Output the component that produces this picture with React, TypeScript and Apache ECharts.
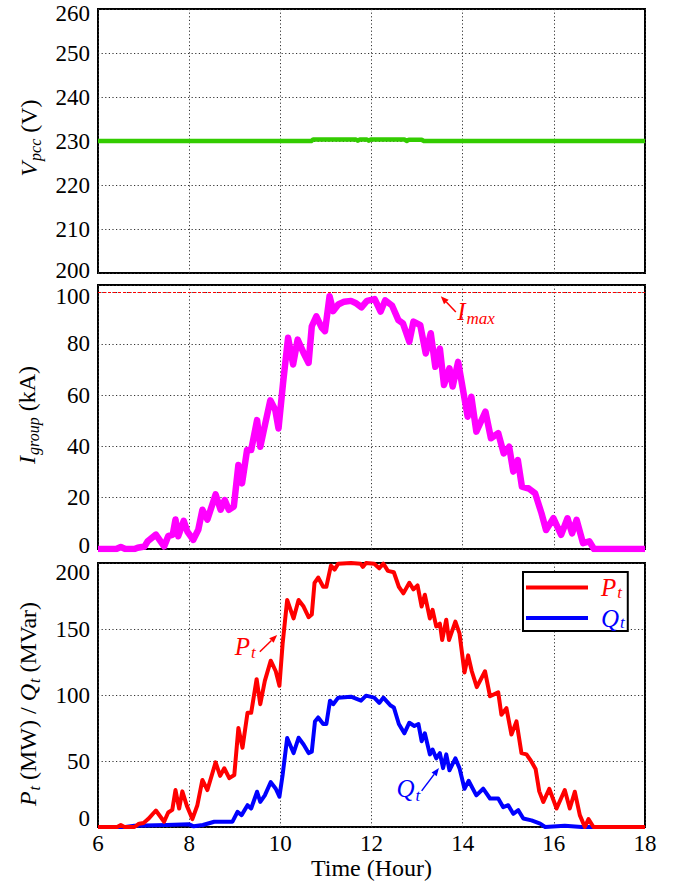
import React, { useEffect, useRef } from 'react';
import * as echarts from 'echarts';

// ---------- data ----------
const hourTicks = [6, 8, 10, 12, 14, 16, 18];

const voltagePcc: [number, number][] = [
  [6, 230], [10.68, 230], [10.72, 230.35], [11.66, 230.35], [11.7, 230.05], [11.74, 230.35],
  [11.9, 230.35], [11.94, 230.05], [11.98, 230.35], [12.72, 230.35], [12.77, 230], [12.82, 230.3],
  [13.1, 230.3], [13.15, 230], [18, 230],
];

const groupCurrent: [number, number][] = [
  [6, 0], [6.4, 0], [6.5, 0.8], [6.6, 0], [6.8, 0], [6.87, 0.5], [7.02, 1], [7.09, 3], [7.27, 5.6],
  [7.45, 1], [7.54, 5], [7.64, 5.6], [7.7, 11.5], [7.76, 5], [7.88, 11], [7.96, 6.8], [8.09, 3.6],
  [8.2, 7.5], [8.29, 15.3], [8.4, 11.5], [8.58, 21.3], [8.69, 15.3], [8.78, 19.1], [8.87, 15.3],
  [8.98, 16.6], [9.08, 32.8], [9.16, 25.6], [9.27, 38.6], [9.36, 38.6], [9.49, 50.3], [9.56, 39.9],
  [9.67, 49], [9.78, 58], [9.89, 54.2], [9.96, 47], [10.06, 64.8], [10.17, 82.4], [10.28, 72],
  [10.38, 81.7], [10.51, 76.5], [10.62, 72.6], [10.69, 86.9], [10.79, 90.8], [10.91, 86.3],
  [10.98, 85], [11.08, 98.6], [11.16, 92.8], [11.27, 95.4], [11.4, 96.5], [11.55, 96.8],
  [11.65, 96], [11.78, 94.3], [11.9, 96.8], [12.07, 97.5], [12.2, 92.6], [12.3, 97], [12.45, 95],
  [12.59, 89.3], [12.69, 88], [12.83, 80.9], [12.92, 88.7], [13.07, 87.3], [13.19, 76.3],
  [13.3, 84.2], [13.4, 71.1], [13.5, 78.2], [13.59, 64], [13.71, 70.5], [13.78, 63.4], [13.9, 73],
  [13.97, 65.9], [14.11, 51.6], [14.19, 59.4], [14.3, 45.8], [14.5, 53.6], [14.62, 43.2],
  [14.78, 45.2], [14.9, 37.3], [15.02, 39.9], [15.11, 30.2], [15.21, 34.7], [15.3, 24.3],
  [15.45, 23.6], [15.59, 21.7], [15.73, 13.9], [15.83, 7.4], [15.99, 12], [16.16, 5.5], [16.3, 12],
  [16.4, 6.1], [16.5, 11.4], [16.64, 2.3], [16.78, 3], [16.88, 0], [18, 0],
];

const currentLimit = 100;

const activePower: [number, number][] = [
  [6, 0], [6.42, 0], [6.5, 1.5], [6.58, 0], [6.8, 0], [6.9, 2.5], [7.0, 3], [7.1, 6], [7.27, 12.5],
  [7.45, 4], [7.54, 11], [7.63, 13], [7.7, 28], [7.78, 14], [7.85, 27], [7.95, 16], [8.07, 6],
  [8.18, 16.5], [8.29, 35.6], [8.4, 28], [8.58, 49], [8.68, 38.7], [8.77, 44.5], [8.88, 37],
  [8.99, 39.4], [9.08, 75], [9.17, 60], [9.28, 86.5], [9.36, 86.5], [9.48, 112], [9.56, 93],
  [9.66, 110.7], [9.79, 126], [9.9, 118], [9.98, 107], [10.05, 138.7], [10.15, 172], [10.29, 158],
  [10.4, 172], [10.51, 167], [10.62, 159], [10.69, 161], [10.75, 185], [10.83, 189], [10.94, 182],
  [11.01, 182], [11.11, 198], [11.19, 195], [11.27, 199.5], [11.55, 200], [11.76, 199.5],
  [11.81, 197], [11.88, 200], [12.06, 199.5], [12.17, 196], [12.26, 199.5], [12.36, 194],
  [12.49, 193], [12.6, 182], [12.7, 177], [12.83, 185], [12.92, 180], [13.01, 183], [13.1, 167],
  [13.17, 176], [13.28, 158], [13.34, 164.5], [13.42, 152], [13.5, 154], [13.55, 141.6],
  [13.64, 157], [13.7, 141.6], [13.84, 155.6], [13.93, 146.7], [14.04, 117], [14.12, 130],
  [14.2, 118], [14.31, 106], [14.49, 118], [14.6, 99], [14.78, 102], [14.85, 85], [14.96, 90],
  [15.07, 70], [15.18, 80], [15.29, 56], [15.4, 55], [15.5, 50], [15.6, 44], [15.68, 27],
  [15.77, 19], [15.9, 29], [16.06, 14], [16.24, 28], [16.35, 14], [16.46, 26.7], [16.57, 9],
  [16.68, 0], [16.76, 6], [16.87, 0], [18, 0],
];

const reactivePower: [number, number][] = [
  [6, 0], [6.6, 0], [6.8, 1], [7.5, 1.5], [8.0, 2], [8.1, 0.5], [8.3, 1.5], [8.55, 4], [8.95, 4],
  [9.06, 11.5], [9.15, 9], [9.28, 16.5], [9.36, 14], [9.49, 26.7], [9.56, 19], [9.66, 24],
  [9.79, 34], [9.9, 29], [9.98, 23], [10.05, 39.4], [10.15, 67.4], [10.29, 56], [10.4, 67.6],
  [10.51, 62.5], [10.62, 56], [10.69, 57], [10.76, 80], [10.83, 83], [10.94, 78], [11.01, 78],
  [11.09, 95.7], [11.16, 93], [11.27, 98], [11.55, 98.7], [11.77, 95.7], [11.88, 99.5], [12.06, 98],
  [12.17, 94], [12.26, 98], [12.42, 92], [12.49, 90.6], [12.6, 78], [12.72, 71], [12.83, 79],
  [12.94, 76.5], [13.03, 78], [13.1, 65], [13.17, 71], [13.28, 55], [13.34, 58.7], [13.42, 52],
  [13.5, 56], [13.57, 44.6], [13.64, 55], [13.71, 43], [13.84, 52], [13.93, 44.6], [14.04, 29],
  [14.13, 35], [14.3, 24], [14.45, 29], [14.6, 21.6], [14.78, 21.6], [14.89, 15], [15.0, 16.5],
  [15.11, 10], [15.22, 12.7], [15.33, 6.4], [15.51, 5], [15.7, 2.5], [15.81, 0], [16.24, 1],
  [16.61, 0], [18, 0],
];

// annotation anchors in data coordinates: [hour, value]
const pLabelAt = [9.0, 137];
const pArrow = [[9.55, 132.7], [9.93, 145.5]];
const qLabelAt = [12.55, 29];
const qArrow = [[13.1, 27.4], [13.48, 44.7]];
const iLabelAt = [13.88, 92.5];
const iArrow = [[13.85, 92.5], [13.52, 98.6]];

// ---------- styling ----------
const FONT = '"Liberation Serif", "Times New Roman", serif';
const TICK = 23;
const gridBox = { left: 98, width: 547, height: 264 };
const gridTops = [9, 285, 563];

const gridLine = { show: true, lineStyle: { color: '#333', width: 1, type: [1.2, 2.4] as any } };

function shiftLabel(text: string, d: number) {
  if (d > 0) return `{dn${d}|${text}}`;
  if (d < 0) return `{up${-d}|${text}}`;
  return `{n|${text}}`;
}
const labelRich: any = {
  n: { fontFamily: FONT, fontSize: TICK, color: '#000' },
};
[3, 4, 9].forEach((d) => {
  labelRich['dn' + d] = { fontFamily: FONT, fontSize: TICK, color: '#000', padding: [2 * d, 0, 0, 0] };
  labelRich['up' + d] = { fontFamily: FONT, fontSize: TICK, color: '#000', padding: [0, 0, 2 * d, 0] };
});

function subRich(prefix: string, color: string, main: number, sub: number, padLeft = 0) {
  return {
    [prefix + 'm']: { fontFamily: FONT, fontSize: main, fontStyle: 'italic', color, fill: color, lineHeight: main + 2, padding: [0, 0, 0, padLeft] },
    [prefix + 's']: { fontFamily: FONT, fontSize: sub, fontStyle: 'italic', color, fill: color, lineHeight: sub, padding: [Math.round(main * 0.5), 0, 0, 1] },
    [prefix + 'r']: { fontFamily: FONT, fontSize: main, fontStyle: 'normal', color, fill: color, lineHeight: main + 2 },
  };
}

// legend variant: subscript pushed down by bottom alignment (keeps the row compact)
function legendSubRich(prefix: string, color: string, main: number, sub: number, padLeft: number) {
  return {
    [prefix + 'm']: { fontFamily: FONT, fontSize: main, fontStyle: 'italic', color, lineHeight: main + 1, padding: [0, 0, 0, padLeft] },
    [prefix + 's']: { fontFamily: FONT, fontSize: sub, fontStyle: 'italic', color, lineHeight: sub - 3, verticalAlign: 'bottom', padding: [0, 0, 0, 1] },
  };
}

export default function App() {
  const ref = useRef<HTMLDivElement>(null);

  useEffect(() => {
    if (!ref.current) return;
    const chart = echarts.init(ref.current, undefined, { renderer: 'svg' });

    const xAxes = [0, 1, 2].map((i) => ({
      type: 'value',
      gridIndex: i,
      min: hourTicks[0],
      max: hourTicks[hourTicks.length - 1],
      interval: hourTicks[1] - hourTicks[0],
      axisLine: { show: false },
      axisTick: { show: false },
      splitLine: gridLine,
      axisLabel: { show: i === 2, fontFamily: FONT, fontSize: TICK, color: '#000', margin: 5 },
      name: i === 2 ? 'Time (Hour)' : '',
      nameLocation: 'middle',
      nameGap: 27,
      nameTextStyle: { fontFamily: FONT, fontSize: TICK + 1, color: '#000' },
    }));

    const yCommon = {
      type: 'value',
      axisLine: { show: false },
      axisTick: { show: false },
      splitLine: gridLine,
    };

    const yAxes = [
      {
        ...yCommon, gridIndex: 0, min: 200, max: 260, interval: 10,
        axisLabel: { margin: 8, rich: labelRich, formatter: (v: number) => shiftLabel(String(v), v === 260 ? 4 : v === 200 ? -3 : 0) },
      },
      {
        ...yCommon, gridIndex: 1, min: 0, max: 103, interval: 20,
        axisLabel: { margin: 8, rich: labelRich, formatter: (v: number) => (v % 20 === 0 ? shiftLabel(String(v), v === 0 ? -4 : v === 100 ? 4 : 0) : '') },
      },
      {
        ...yCommon, gridIndex: 2, min: 0, max: 200, interval: 50,
        axisLabel: { margin: 8, rich: labelRich, formatter: (v: number) => shiftLabel(String(v), v === 200 ? 9 : v === 0 ? -9 : 0) },
      },
    ];

    const legendRich = { ...legendSubRich('p', '#ff0000', 25, 17, 8), ...legendSubRich('q', '#0000ff', 25, 17, 8) };

    const option: any = {
      animation: false,
      backgroundColor: '#fff',
      grid: gridTops.map((top) => ({ ...gridBox, top, show: true, borderColor: '#000', borderWidth: 2, backgroundColor: 'transparent' })),
      xAxis: xAxes,
      yAxis: yAxes,
      legend: {
        data: ['Pt', 'Qt'],
        orient: 'vertical',
        left: 523,
        top: 572,
        padding: [3, 3, 0, 3],
        itemGap: 5,
        itemWidth: 62,
        itemHeight: 4,
        icon: 'rect',
        borderColor: '#000',
        borderWidth: 2,
        borderRadius: 0,
        backgroundColor: '#fff',
        selectedMode: false,
        formatter: (name: string) => (name === 'Pt' ? '{pm|P}{ps|t}' : '{qm|Q}{qs|t}'),
        textStyle: { rich: legendRich },
      },
      series: [
        {
          type: 'line', name: 'Vpcc', xAxisIndex: 0, yAxisIndex: 0, data: voltagePcc,
          showSymbol: false, lineStyle: { color: '#33cc00', width: 4.5, join: 'round' }, itemStyle: { color: '#33cc00' },
        },
        {
          type: 'line', name: 'Igroup', xAxisIndex: 1, yAxisIndex: 1, data: groupCurrent,
          showSymbol: false, lineStyle: { color: '#ff00ff', width: 6.5, join: 'round' }, itemStyle: { color: '#ff00ff' },
          markLine: {
            silent: true, symbol: ['none', 'none'], label: { show: false },
            lineStyle: { color: '#ff0000', width: 1, type: [3, 2] },
            data: [{ yAxis: currentLimit }],
          },
        },
        {
          type: 'line', name: 'Qt', xAxisIndex: 2, yAxisIndex: 2, data: reactivePower,
          showSymbol: false, lineStyle: { color: '#0000ff', width: 4, join: 'round' }, itemStyle: { color: '#0000ff' },
        },
        {
          type: 'line', name: 'Pt', xAxisIndex: 2, yAxisIndex: 2, data: activePower,
          showSymbol: false, lineStyle: { color: '#ff0000', width: 4, join: 'round' }, itemStyle: { color: '#ff0000' },
        },
      ],
    };

    chart.setOption(option);

    const toPx = (seriesIndex: number, p: number[]) => chart.convertToPixel({ seriesIndex } as any, p) as number[];

    const arrow = (tail: number[], head: number[], color: string) => {
      const dx = head[0] - tail[0];
      const dy = head[1] - tail[1];
      const len = Math.hypot(dx, dy) || 1;
      const ux = dx / len, uy = dy / len;
      const hl = 8, hw = 3.2;
      const bx = head[0] - ux * hl, by = head[1] - uy * hl;
      return [
        { type: 'line', z: 100, shape: { x1: tail[0], y1: tail[1], x2: bx, y2: by }, style: { stroke: color, lineWidth: 1.5 } },
        {
          type: 'polygon', z: 100,
          shape: { points: [[head[0], head[1]], [bx - uy * hw, by + ux * hw], [bx + uy * hw, by - ux * hw]] },
          style: { fill: color },
        },
      ];
    };

    const annText = (pos: number[], text: string, rich: any, color: string) => ({
      type: 'text', z: 100, x: pos[0], y: pos[1],
      style: { text, rich, fill: color, align: 'left', verticalAlign: 'middle', fontFamily: FONT, fontSize: 25 },
    });

    const redRich = subRich('a', '#ff0000', 25, 17);
    const blueRich = subRich('b', '#0000ff', 25, 17);
    const blackRich = subRich('k', '#000000', 24, 16);

    const title = (x: number, y: number, text: string) => ({
      type: 'text', z: 100, x, y, rotation: Math.PI / 2,
      style: { text, rich: blackRich, fill: '#000', align: 'center', verticalAlign: 'middle', fontFamily: FONT, fontSize: 24 },
    });

    const graphic: any[] = [
      annText(toPx(3, pLabelAt), '{am|P}{as|t}', redRich, '#ff0000'),
      ...arrow(toPx(3, pArrow[0]), toPx(3, pArrow[1]), '#ff0000'),
      annText(toPx(2, qLabelAt), '{bm|Q}{bs|t}', blueRich, '#0000ff'),
      ...arrow(toPx(2, qArrow[0]), toPx(2, qArrow[1]), '#0000ff'),
      annText(toPx(1, iLabelAt), '{am|I}{as|max}', redRich, '#ff0000'),
      ...arrow(toPx(1, iArrow[0]), toPx(1, iArrow[1]), '#ff0000'),
      title(29, 138, '{km|V}{ks|pcc}{kr| (V)}'),
      title(27, 415, '{km|I}{ks|group}{kr| (kA)}'),
      title(28, 704, '{km|P}{ks|t}{kr| (MW) / }{km|Q}{ks|t}{kr| (MVar)}'),
    ];

    chart.setOption({ graphic });

    return () => chart.dispose();
  }, []);

  return (
    <div
      ref={ref}
      style={{ position: 'fixed', left: 0, top: 0, width: 683, height: 886, background: '#fff' }}
    />
  );
}
